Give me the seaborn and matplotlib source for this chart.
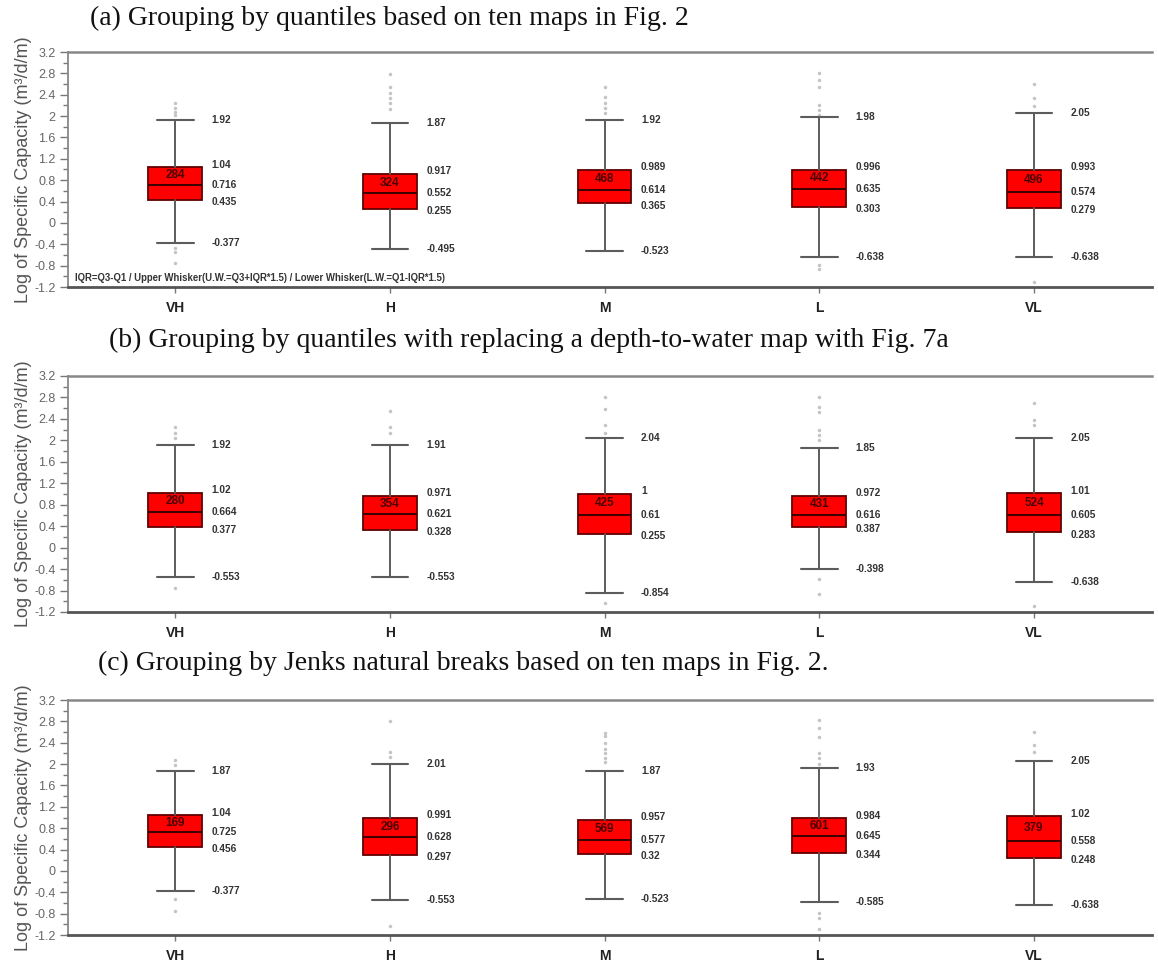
import matplotlib
matplotlib.use("Agg")
import matplotlib.pyplot as plt
from matplotlib.ticker import MultipleLocator
import pandas as pd
import seaborn as sns

# -----------------------------
# Data
# -----------------------------
CATEGORIES = ["VH", "H", "M", "L", "VL"]

# (a) quantiles, ten maps
A_LOW = [-0.377, -0.495, -0.523, -0.638, -0.638]
A_Q1 = [0.435, 0.255, 0.365, 0.303, 0.279]
A_MED = [0.716, 0.552, 0.614, 0.635, 0.574]
A_Q3 = [1.04, 0.917, 0.989, 0.996, 0.993]
A_HIGH = [1.92, 1.87, 1.92, 1.98, 2.05]
A_N = [284, 324, 468, 442, 496]
A_OUTLIERS = [
    [2.25, 2.16, 2.08, 2.02, -0.47, -0.55, -0.75],
    [2.79, 2.54, 2.44, 2.33, 2.24, 2.13],
    [2.54, 2.35, 2.24, 2.15, 2.05],
    [2.81, 2.68, 2.54, 2.21, 2.11, 2.02, -0.79, -0.87],
    [2.60, 2.33, 2.19, -1.10],
]

# (b) quantiles, depth-to-water replaced
B_LOW = [-0.553, -0.553, -0.854, -0.398, -0.638]
B_Q1 = [0.377, 0.328, 0.255, 0.387, 0.283]
B_MED = [0.664, 0.621, 0.61, 0.616, 0.605]
B_Q3 = [1.02, 0.971, 1.0, 0.972, 1.01]
B_HIGH = [1.92, 1.91, 2.04, 1.85, 2.05]
B_N = [280, 354, 425, 431, 524]
B_OUTLIERS = [
    [2.25, 2.13, 2.05, -0.75],
    [2.55, 2.25, 2.13],
    [2.80, 2.58, 2.29, 2.14, -1.04],
    [2.81, 2.63, 2.53, 2.20, 2.10, 2.00, -0.58, -0.87],
    [2.69, 2.38, 2.29, -1.09],
]

# (c) Jenks natural breaks
C_LOW = [-0.377, -0.553, -0.523, -0.585, -0.638]
C_Q1 = [0.456, 0.297, 0.32, 0.344, 0.248]
C_MED = [0.725, 0.628, 0.577, 0.645, 0.558]
C_Q3 = [1.04, 0.991, 0.957, 0.984, 1.02]
C_HIGH = [1.87, 2.01, 1.87, 1.93, 2.05]
C_N = [169, 296, 569, 601, 379]
C_OUTLIERS = [
    [2.08, 1.98, -0.53, -0.75],
    [2.81, 2.23, 2.13, -1.04],
    [2.58, 2.53, 2.39, 2.29, 2.20, 2.11, 2.03],
    [2.83, 2.67, 2.51, 2.20, 2.11, 2.01, -0.79, -0.89, -1.09],
    [2.61, 2.36, 2.23],
]

TITLES = [
    "(a) Grouping by quantiles based on ten maps in Fig. 2",
    "(b) Grouping by quantiles with replacing a depth-to-water map with Fig. 7a",
    "(c) Grouping by Jenks natural breaks based on ten maps in Fig. 2.",
]
NOTE = "IQR=Q3-Q1 / Upper Whisker(U.W.=Q3+IQR*1.5) / Lower Whisker(L.W.=Q1-IQR*1.5)"
Y_TICKS = [-1.2, -0.8, -0.4, 0, 0.4, 0.8, 1.2, 1.6, 2, 2.4, 2.8, 3.2]

# -----------------------------
# Style
# -----------------------------
sns.set_style("ticks")
plt.rcParams["font.family"] = ["Liberation Sans", "DejaVu Sans"]

W, H = 1158, 963
fig = plt.figure(figsize=(W / 100, H / 100), dpi=100)


def draw_panel(ax, low, q1, med, q3, high, counts, outliers, note=False):
    stats = []
    for i in range(len(CATEGORIES)):
        stats.append(dict(whislo=low[i], q1=q1[i], med=med[i], q3=q3[i],
                          whishi=high[i], fliers=[]))
    ax.bxp(stats, positions=range(len(CATEGORIES)), widths=0.25, capwidths=0.17,
           patch_artist=True, showfliers=False,
           boxprops=dict(facecolor="#ff0000", edgecolor="#600000", linewidth=1.3),
           medianprops=dict(color="#3a0000", linewidth=1.4),
           whiskerprops=dict(color="#5c5c5c", linewidth=1.4),
           capprops=dict(color="#5c5c5c", linewidth=1.5))

    rows = []
    for cat, vals in zip(CATEGORIES, outliers):
        for v in vals:
            rows.append((cat, v))
    df = pd.DataFrame(rows, columns=["group", "value"])
    sns.stripplot(data=df, x="group", y="value", order=CATEGORIES, jitter=False,
                  color="#c4c4c4", size=2.5, linewidth=0, ax=ax, zorder=1)

    lab = dict(fontsize=7.3, fontweight="bold", color="#333333", va="center", ha="left")
    for i in range(len(CATEGORIES)):
        x = i + 0.17
        ax.text(x, high[i], f"{high[i]:g}", **lab)
        ax.text(x, q3[i] + 0.05, f"{q3[i]:g}", **lab)
        ax.text(x, med[i], f"{med[i]:g}", **lab)
        ax.text(x, q1[i] - 0.04, f"{q1[i]:g}", **lab)
        ax.text(x, low[i], f"{low[i]:g}", **lab)
        ax.text(i, (q3[i] + med[i]) / 2 + 0.02, str(counts[i]), ha="center", va="center",
                fontsize=8.5, fontweight="bold", color="#4a0000", zorder=5)

    if note:
        ax.text(0.006, 0.04, NOTE, transform=ax.transAxes, fontsize=6.9,
                fontweight="bold", color="#333333", va="center", ha="left")

    ax.set_xlim(-0.5, 4.55)
    ax.set_ylim(-1.2, 3.2)
    ax.set_xticks(range(len(CATEGORIES)))
    ax.set_xticklabels(CATEGORIES, fontweight="bold", fontsize=10, color="#222222")
    ax.set_yticks(Y_TICKS)
    ax.set_yticklabels([f"{t:g}" for t in Y_TICKS], fontsize=9, color="#666666")
    ax.yaxis.set_minor_locator(MultipleLocator(0.2))
    ax.tick_params(axis="y", which="major", length=6, width=1, color="#777777", pad=3)
    ax.tick_params(axis="y", which="minor", length=3.5, width=1, color="#777777")
    ax.tick_params(axis="x", length=4, width=1, color="#777777", pad=6)
    ax.set_xlabel("")
    ax.set_ylabel("Log of Specific Capacity (m³/d/m)", fontsize=13, color="#555555")
    ax.yaxis.set_label_coords(-0.033, 0.5)

    ax.spines["right"].set_visible(False)
    ax.spines["top"].set_color("#888888")
    ax.spines["top"].set_linewidth(1.8)
    ax.spines["left"].set_color("#888888")
    ax.spines["left"].set_linewidth(1.3)
    ax.spines["bottom"].set_color("#555555")
    ax.spines["bottom"].set_linewidth(2.0)


# axes rectangles in pixel terms: (top, bottom)
panels = [
    (52, 287, A_LOW, A_Q1, A_MED, A_Q3, A_HIGH, A_N, A_OUTLIERS, True),
    (376, 612, B_LOW, B_Q1, B_MED, B_Q3, B_HIGH, B_N, B_OUTLIERS, False),
    (700, 935, C_LOW, C_Q1, C_MED, C_Q3, C_HIGH, C_N, C_OUTLIERS, False),
]
left_px, right_px = 68, 1152
for top, bottom, lo, q1, md, q3, hi, n, outl, note in panels:
    ax = fig.add_axes([left_px / W, 1 - bottom / H, (right_px - left_px) / W, (bottom - top) / H])
    draw_panel(ax, lo, q1, md, q3, hi, n, outl, note)

# panel titles
title_pos = [(90, 18), (109, 340), (98, 663)]
for (tx, ty), title in zip(title_pos, TITLES):
    fig.text(tx / W, 1 - ty / H, title, family=["Liberation Serif", "DejaVu Serif"],
             fontsize=20, ha="left", va="center", color="#111111")

fig.savefig("out.png", dpi=100)
